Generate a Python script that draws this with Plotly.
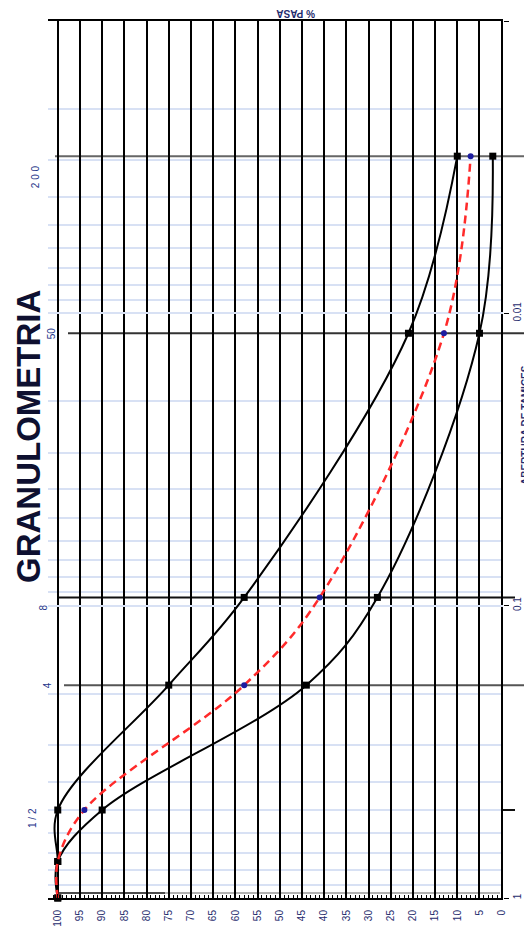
import numpy as np
import plotly.graph_objects as go

# ---------------- data ----------------
sieve_names = ['1"', '3/4"', '1/2"', 'N°4', 'N°8', 'N°50', 'N°200']
sieve_in = [1.0, 0.75, 0.5, 0.187, 0.0937, 0.0117, 0.0029]   # aperture (in)
upper_pct = [100, 100, 100, 75, 58, 21, 10]
sample_pct = [100, 100, 94, 58, 41, 13, 7]
lower_pct = [100, 100, 90, 44, 28, 5, 2]

pct_ticks = list(range(100, -1, -5))
aperture_ticks = [1, 0.1, 0.01, 0.001]
aperture_tick_labels = ["1", "0.1", "0.01", "0.001"]

# sieves marked with a horizontal line and a label on the left
marked_sieves = ['1/2"', 'N°4', 'N°8', 'N°50', 'N°200']
marked_labels = ["1 / 2", "4", "8", "50", "2 0 0"]

# ---------------- styles ----------------
NAVY = "#1f2c6e"
FONT = "Liberation Sans, Arial, sans-serif"
label_style = {   # x (page px), yshift (px)
    "1 / 2": (32, -8),
    "4": (47, 0),
    "8": (43, -10),
    "50": (51, 0),
    "2 0 0": (35, -21),
}
line_style = {   # x0 page px, x1 page px, colour
    '1/2"': (71, 515, "#111111"),
    'N°4': (64, 530, "#555555"),
    'N°8': (58, 515, "#111111"),
    'N°50': (68, 530, "#333333"),
    'N°200': (55, 532, "#666666"),
}

# the page body has an 8px margin: build the figure in page coordinates
OFF = 8
PAGE_W, PAGE_H = 532, 936
W, H = PAGE_W - OFF, PAGE_H - OFF
PLOT_L, PLOT_R, PLOT_T, PLOT_B = 48, 503, 21, 898     # page px
ML, MR = PLOT_L - OFF, PAGE_W - PLOT_R
MT, MB = PLOT_T - OFF, PAGE_H - PLOT_B
PW = PLOT_R - PLOT_L
PH = PLOT_B - PLOT_T


def px_to_paper_x(px):
    return (px - PLOT_L) / PW


def px_to_paper_y(py):
    return (PLOT_B - py) / PH


fig = go.Figure()

black_line = dict(color="black", width=2, shape="spline", smoothing=1)
fig.add_trace(go.Scatter(x=upper_pct, y=sieve_in, mode="lines+markers",
                         line=black_line,
                         marker=dict(symbol="square", size=7, color="black"),
                         cliponaxis=False, showlegend=False))
fig.add_trace(go.Scatter(x=lower_pct, y=sieve_in, mode="lines+markers",
                         line=black_line,
                         marker=dict(symbol="square", size=7, color="black"),
                         cliponaxis=False, showlegend=False))
fig.add_trace(go.Scatter(x=sample_pct, y=sieve_in, mode="lines",
                         line=dict(color="#ff2a2a", width=2.5, dash="8px,5px",
                                   shape="spline", smoothing=1),
                         cliponaxis=False, showlegend=False))
fig.add_trace(go.Scatter(x=sample_pct[2:], y=sieve_in[2:], mode="markers",
                         marker=dict(symbol="circle", size=6, color="#1c1ca0"),
                         cliponaxis=False, showlegend=False))

shapes = []
annotations = []
for name, lab in zip(marked_sieves, marked_labels):
    v = sieve_in[sieve_names.index(name)]
    x0, x1, col = line_style[name]
    shapes.append(dict(type="line", xref="paper", yref="y",
                       x0=px_to_paper_x(x0), x1=px_to_paper_x(x1),
                       y0=v, y1=v,
                       line=dict(color=col, width=2), layer="below"))
    lx, ys = label_style[lab]
    annotations.append(dict(text=lab, xref="paper", yref="y",
                            x=px_to_paper_x(lx), y=np.log10(v), yshift=ys,
                            textangle=-90, showarrow=False,
                            xanchor="center", yanchor="middle",
                            font=dict(family=FONT, size=10, color="#25358a")))

# double line just above the bottom axis
shapes.append(dict(type="line", xref="paper", yref="paper",
                   x0=px_to_paper_x(57), x1=px_to_paper_x(165),
                   y0=px_to_paper_y(893), y1=px_to_paper_y(893),
                   line=dict(color="#111111", width=1.5), layer="below"))
shapes.append(dict(type="line", xref="paper", yref="paper",
                   x0=px_to_paper_x(165), x1=px_to_paper_x(500),
                   y0=px_to_paper_y(893), y1=px_to_paper_y(893),
                   line=dict(color="#9a9a9a", width=1.5), layer="below"))

annotations.append(dict(text="<b>GRANULOMETRIA</b>", xref="paper", yref="paper",
                        x=px_to_paper_x(28), y=px_to_paper_y(437),
                        textangle=-90, showarrow=False,
                        xanchor="center", yanchor="middle",
                        font=dict(family=FONT, size=33, color="#0e1030")))
annotations.append(dict(text="<b>% PASA</b>", xref="paper", yref="paper",
                        x=px_to_paper_x(296), y=px_to_paper_y(14),
                        textangle=180, showarrow=False,
                        xanchor="center", yanchor="middle",
                        font=dict(family=FONT, size=10, color=NAVY)))
annotations.append(dict(text="<b>ABERTURA DE TAMICES</b>", xref="paper", yref="paper",
                        x=px_to_paper_x(525), y=px_to_paper_y(425),
                        textangle=-90, showarrow=False,
                        xanchor="center", yanchor="middle",
                        font=dict(family=FONT, size=10, color=NAVY)))

minor_vals = [m * 10.0 ** e for e in (-3, -2, -1) for m in range(2, 10)]

fig.update_layout(
    width=W, height=H,
    margin=dict(l=ML, r=MR, t=MT, b=MB, pad=0, autoexpand=False),
    paper_bgcolor="white", plot_bgcolor="rgba(0,0,0,0)",
    font=dict(family=FONT),
    shapes=shapes, annotations=annotations,
    xaxis=dict(range=[102.2, -0.3], tickvals=pct_ticks, tickangle=-90,
               automargin=False,
               showgrid=True, gridcolor="black", gridwidth=2, zeroline=False,
               showline=True, linecolor="black", linewidth=2, mirror=True,
               ticks="inside", ticklen=4, tickcolor="black",
               minor=dict(dtick=1, ticks="inside", ticklen=3,
                          tickcolor="black", showgrid=False),
               tickfont=dict(size=10, color=NAVY, family=FONT),
               ticklabelstandoff=6),
    yaxis=dict(type="log", range=[0, -3], side="right", automargin=False,
               tickvals=aperture_ticks, ticktext=aperture_tick_labels,
               tickangle=-90, ticks="outside", ticklen=5, tickcolor="black",
               showgrid=True, gridcolor="#d8e1f4", gridwidth=1.5,
               minor=dict(tickvals=minor_vals, showgrid=True,
                          gridcolor="#d8e1f4", gridwidth=1.5, ticks=""),
               showline=False, zeroline=False,
               tickfont=dict(size=10, color=NAVY, family=FONT)),
)

fig.write_html("out.html")
